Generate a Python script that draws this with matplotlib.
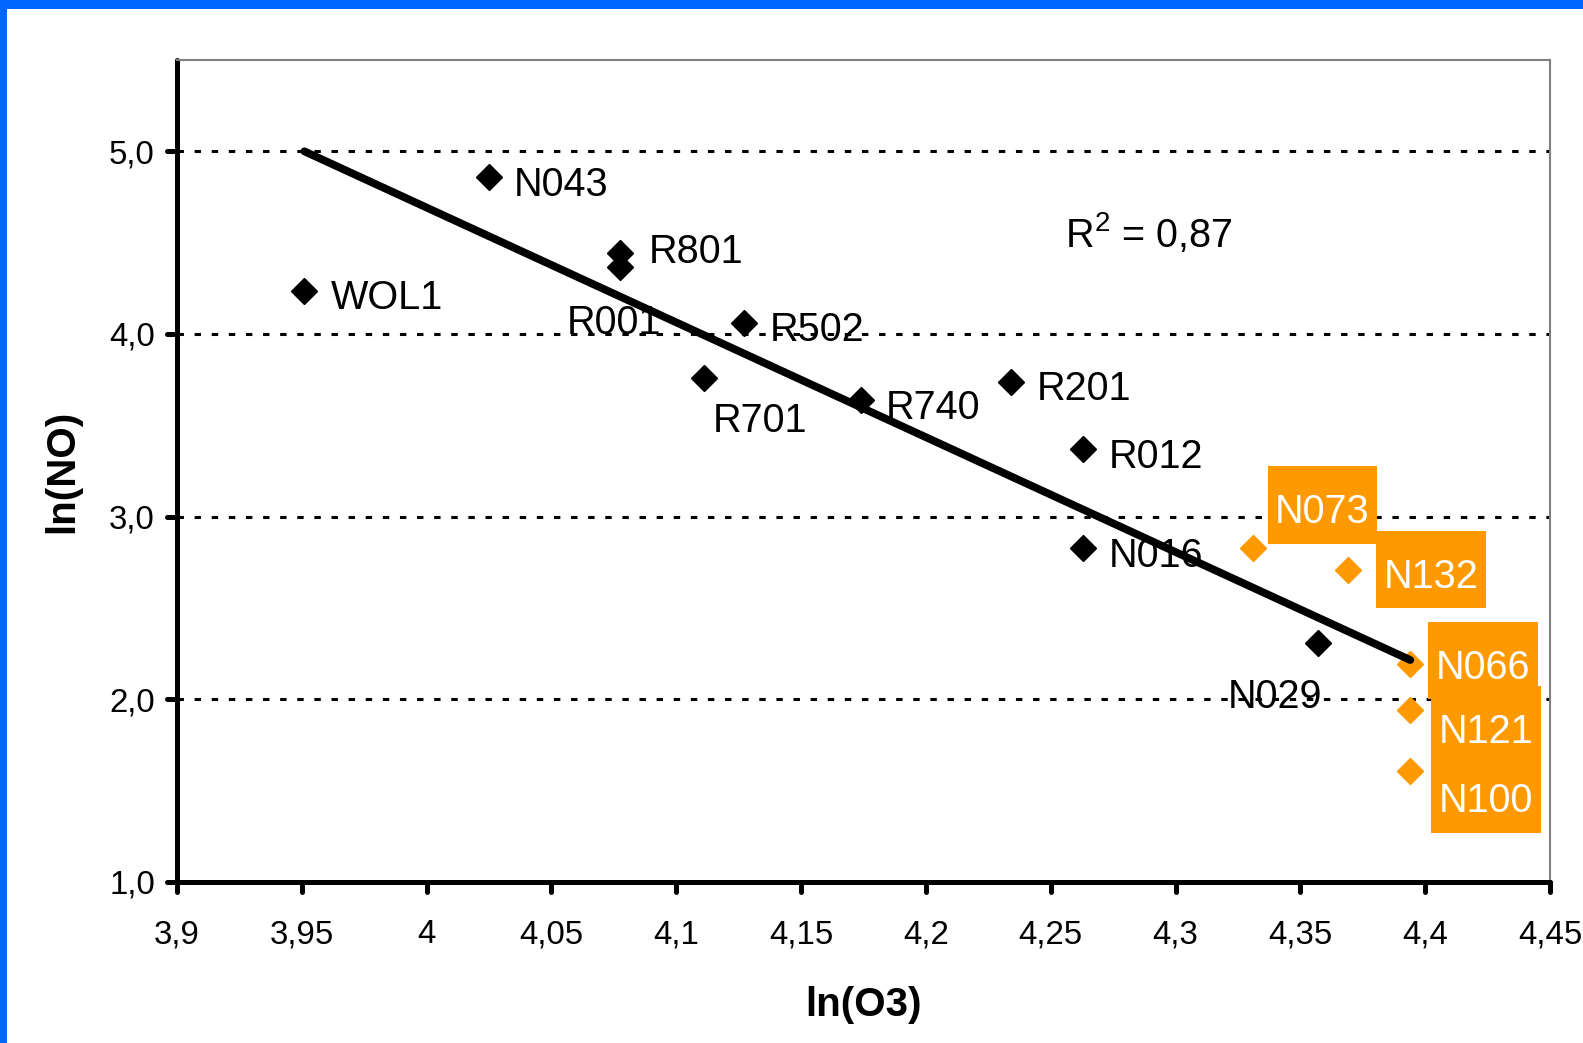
import numpy as np
import matplotlib
matplotlib.use("Agg")
import matplotlib.pyplot as plt
import matplotlib.lines as mlines
from matplotlib.markers import MarkerStyle
from matplotlib.path import Path
from matplotlib.patches import Rectangle

plt.rcParams['font.family'] = ['Liberation Sans', 'DejaVu Sans']
plt.rcParams['mathtext.fontset'] = 'custom'
plt.rcParams['mathtext.rm'] = 'Liberation Sans'
plt.rcParams['mathtext.it'] = 'Liberation Sans'
plt.rcParams['mathtext.bf'] = 'Liberation Sans:bold'

# black sites
blk_names = ['WOL1', 'N043', 'R801', 'R001', 'R502', 'R701', 'R740', 'R201', 'R012', 'N016', 'N029']
blk_x = [3.951, 4.025, 4.0775, 4.0775, 4.127, 4.111, 4.174, 4.234, 4.263, 4.263, 4.357]
blk_y = [4.237, 4.862, 4.441, 4.364, 4.059, 3.761, 3.639, 3.739, 3.368, 2.831, 2.306]

# orange (highlighted) sites
org_names = ['N073', 'N132', 'N066', 'N121', 'N100']
org_x = [4.331, 4.369, 4.394, 4.394, 4.394]
org_y = [2.831, 2.710, 2.195, 1.941, 1.609]

# trend line end points
trend_x = [3.951, 4.394]
trend_y = [5.00, 2.215]
r2_text = 'R$^{2}$ = 0,87'

xticks = [3.9, 3.95, 4.0, 4.05, 4.1, 4.15, 4.2, 4.25, 4.3, 4.35, 4.4, 4.45]
xtick_labels = ['3,9', '3,95', '4', '4,05', '4,1', '4,15', '4,2', '4,25', '4,3', '4,35', '4,4', '4,45']
yticks = [1, 2, 3, 4, 5]
ytick_labels = ['1,0', '2,0', '3,0', '4,0', '5,0']

# label offsets in points (left edge, baseline)
blk_off = [(18.9, -13.0), (18.1, -13.7), (20.4, -7.2), (-38.5, -47.9), (18.9, -13.0),
           (6.5, -39.2), (18.1, -13.7), (18.9, -13.0), (18.1, -13.7), (18.1, -13.7),
           (-64.7, -46.4)]
org_off = [(16.0, 17.6), (25.6, -13.0), (18.4, -10.8), (20.6, -24.0), (20.6, -29.7)]

ORANGE = '#FF9900'
BLUE = '#0066FF'


def tall_box(x0, y0, width, height, mutation_size):
    # excel-like label box: more room above the text than below
    px = 0.19 * mutation_size
    pb = 0.32 * mutation_size
    pt = 0.68 * mutation_size
    x1, y1 = x0 - px, y0 - pb
    x2, y2 = x0 + width + px, y0 + height + pt
    return Path([(x1, y1), (x2, y1), (x2, y2), (x1, y2), (x1, y1)], closed=True)


fig = plt.figure(figsize=(15.83, 10.43), dpi=100)
ax = fig.add_axes([0.1118, 0.1544, 0.9792 - 0.1118, 0.9425 - 0.1544])

ax.set_xlim(3.9, 4.45)
ax.set_ylim(1.0, 5.5)

ax.set_axisbelow(True)
ax.grid(axis='y', color='black', lw=2.2, ls=(0, (2.1, 3.5)))

ax.plot(blk_x, blk_y, ls='none', marker='D', ms=13, color='black', zorder=4)
ax.plot(org_x, org_y, ls='none', marker='D', ms=13, color=ORANGE, mec=ORANGE, zorder=4)
ax.plot(trend_x, trend_y, color='black', lw=5.6, solid_capstyle='round', zorder=5)

for name, x, y, off in zip(blk_names, blk_x, blk_y, blk_off):
    ax.annotate(name, (x, y), xytext=off, textcoords='offset points',
                ha='left', va='baseline', fontsize=28.5, color='black', zorder=3)

for name, x, y, off in zip(org_names, org_x, org_y, org_off):
    ax.annotate(name, (x, y), xytext=off, textcoords='offset points',
                ha='left', va='baseline', fontsize=28.5, color='white', zorder=6,
                bbox=dict(boxstyle=tall_box, fc=ORANGE, ec='none'))

ax.text(0.6468, 0.7725, r2_text, transform=ax.transAxes, fontsize=28.5,
        ha='left', va='baseline')

ax.set_xticks(xticks)
ax.set_xticklabels(xtick_labels)
ax.set_yticks(yticks)
ax.set_yticklabels(ytick_labels)
ax.tick_params(axis='both', direction='out', length=7, width=3.6, color='black',
               labelsize=23.8)
ax.tick_params(axis='x', pad=20)
ax.tick_params(axis='y', pad=9)

for t in ax.xaxis.get_major_ticks():
    t.tick1line.set_marker(MarkerStyle(mlines.TICKDOWN, capstyle='round'))
for t in ax.yaxis.get_major_ticks():
    t.tick1line.set_marker(MarkerStyle(mlines.TICKLEFT, capstyle='round'))

for s in ['left', 'bottom']:
    ax.spines[s].set_linewidth(3.6)
    ax.spines[s].set_color('black')
    ax.spines[s].set_capstyle('round')
for s in ['top', 'right']:
    ax.spines[s].set_linewidth(1.5)
    ax.spines[s].set_color('#808080')

ax.set_xlabel('ln(O3)', fontsize=29, fontweight='bold')
ax.set_ylabel('ln(NO)', fontsize=29, fontweight='bold')
ax.xaxis.set_label_coords(0.5, -0.1496)
ax.xaxis.label.set_va('center')
ax.yaxis.set_label_coords(-0.0838, 0.5)
ax.yaxis.label.set_va('center')

# blue frame on top and left
fig.patches.append(Rectangle((0, 1 - 9 / 1043), 1, 9 / 1043, transform=fig.transFigure,
                             fc=BLUE, ec='none', zorder=10))
fig.patches.append(Rectangle((0, 0), 7 / 1583, 1, transform=fig.transFigure,
                             fc=BLUE, ec='none', zorder=10))

fig.savefig('out.png', dpi=100)
